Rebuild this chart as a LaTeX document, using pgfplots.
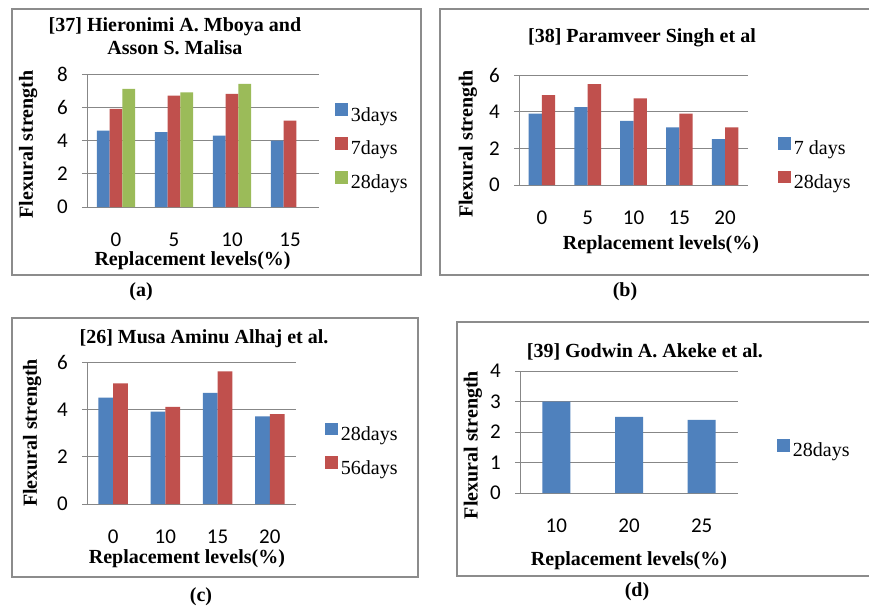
\documentclass[border=0pt]{standalone}
\usepackage{fontspec}
\setmainfont{Liberation Serif}
\newfontfamily\carlito{Carlito}
\usepackage{pgfplots}
\pgfplotsset{compat=1.18}
\definecolor{eb}{HTML}{4F81BD}
\definecolor{er}{HTML}{C0504D}
\definecolor{eg}{HTML}{9BBB59}
\definecolor{grd}{HTML}{878787}
\definecolor{frm}{HTML}{8C8C8C}
\newcommand{\tf}{\fontsize{20bp}{23bp}\selectfont\bfseries}
\pgfplotsset{
 every axis title shift=0pt,
 panel/.style={
  scale only axis, anchor=south west,
  ybar=0pt, ymin=0, enlargelimits=false,
  axis x line*=bottom, axis y line*=left,
  axis line style={grd, line width=1bp},
  ymajorgrids, grid style={grd, line width=1bp},
  xtick=data, xtick style={draw=none},
  ytick style={grd, line width=1bp},
  tick align=outside, major tick length=5bp,
  ticklabel style={font=\carlito\fontsize{21bp}{24bp}\selectfont},
  /pgf/number format/assume math mode=true,
  xticklabel style={anchor=center, inner sep=0pt, yshift=-28bp},
  yticklabel style={anchor=east, inner sep=0pt, xshift=-14bp},
  title style={font=\tf, align=center, anchor=center},
  label style={font=\tf, anchor=center},
  legend style={draw=none, fill=none, anchor=west, inner sep=0pt,
    font=\fontsize{20bp}{24bp}\selectfont, row sep=12bp, column sep=3bp,
    nodes={inner sep=0pt, text height=14bp, text depth=4bp}},
  legend cell align=left,
  legend image code/.code={\fill[##1] (0bp,0bp) rectangle (12.7bp,12.7bp);},
 }
}
\begin{document}
\begin{tikzpicture}
\path[use as bounding box] (0,0) rectangle (869bp,-607bp);
\fill[white] (0,0) rectangle (869bp,-607bp);
% frames
\draw[frm, line width=1.5bp] (12bp,-9bp) rectangle (421bp,-275bp);
\draw[frm, line width=1.5bp] (440bp,-9bp) rectangle (880bp,-275bp);
\draw[frm, line width=1.5bp] (12bp,-318bp) rectangle (418bp,-577bp);
\draw[frm, line width=1.5bp] (457bp,-322bp) rectangle (880bp,-576bp);

% (a)
\begin{axis}[panel, at={(87bp,-207bp)}, width=232bp, height=133bp,
  xmin=-0.5, xmax=3.5, ymax=8, ytick={0,2,4,6,8}, bar width=12.7bp,
  xticklabels={0,5,10,15},
  title={[37] Hieronimi A. Mboya and\\Asson S. Malisa},
  title style={at={(axis description cs:0.379,1.282)}},
  xlabel={Replacement levels(\%)},
  xlabel style={at={(axis description cs:0.455,-0.406)}},
  ylabel={Flexural strength},
  ylabel style={at={(axis description cs:-0.254,0.470)}},
  legend style={at={(axis description cs:1.069,0.444)}}]
\addplot[fill=eb, draw=none] coordinates {(0,4.6) (1,4.5) (2,4.3) (3,4.0)};
\addplot[fill=er, draw=none] coordinates {(0,5.9) (1,6.7) (2,6.8) (3,5.2)};
\addplot[fill=eg, draw=none] coordinates {(0,7.1) (1,6.9) (2,7.4)};
\legend{3days,7days,28days}
\end{axis}

% (b)
\begin{axis}[panel, at={(519bp,-185bp)}, width=229bp, height=110bp,
  xmin=-0.5, xmax=4.5, ymax=6, ytick={0,2,4,6}, bar width=13.3bp,
  xticklabels={0,5,10,15,20},
  title={[38] Paramveer Singh et al},
  title style={at={(axis description cs:0.537,1.336)}},
  xlabel={Replacement levels(\%)},
  xlabel style={at={(axis description cs:0.620,-0.545)}},
  ylabel={Flexural strength},
  ylabel style={at={(axis description cs:-0.223,0.373)}},
  legend style={at={(axis description cs:1.131,0.186)}}]
\addplot[fill=eb, draw=none] coordinates {(0,3.9) (1,4.25) (2,3.5) (3,3.15) (4,2.5)};
\addplot[fill=er, draw=none] coordinates {(0,4.9) (1,5.5) (2,4.73) (3,3.9) (4,3.15)};
\legend{7 days,28days}
\end{axis}

% (c)
\begin{axis}[panel, at={(87bp,-504bp)}, width=209bp, height=142bp,
  xmin=-0.5, xmax=3.5, ymax=6, ytick={0,2,4,6}, bar width=14.7bp,
  xticklabels={0,10,15,20},
  title={[26] Musa Aminu Alhaj et al.},
  title style={at={(axis description cs:0.560,1.162)}},
  xlabel={Replacement levels(\%)},
  xlabel style={at={(axis description cs:0.478,-0.387)}},
  ylabel={Flexural strength},
  ylabel style={at={(axis description cs:-0.263,0.500)}},
  legend style={at={(axis description cs:1.139,0.377)}}]
\addplot[fill=eb, draw=none] coordinates {(0,4.5) (1,3.9) (2,4.7) (3,3.7)};
\addplot[fill=er, draw=none] coordinates {(0,5.1) (1,4.1) (2,5.6) (3,3.8)};
\legend{28days,56days}
\end{axis}

% (d)
\begin{axis}[panel, at={(520bp,-493bp)}, width=218bp, height=122bp,
  xmin=-0.5, xmax=2.5, ymax=4, ytick={0,1,2,3,4}, bar width=28bp,
  xticklabels={10,20,25},
  title={[39] Godwin A. Akeke et al.},
  title style={at={(axis description cs:0.573,1.156)}},
  xlabel={Replacement levels(\%)},
  xlabel style={at={(axis description cs:0.5,-0.557)}},
  ylabel={Flexural strength},
  ylabel style={at={(axis description cs:-0.216,0.393)}},
  legend style={at={(axis description cs:1.179,0.352)}}]
\addplot[fill=eb, draw=none] coordinates {(0,3.0) (1,2.5) (2,2.4)};
\legend{28days}
\end{axis}

% panel labels
\node[font=\tf] at (141bp,-292bp) {(a)};
\node[font=\tf] at (625bp,-292bp) {(b)};
\node[font=\tf] at (201bp,-597bp) {(c)};
\node[font=\tf] at (637bp,-592bp) {(d)};
\end{tikzpicture}
\end{document}
